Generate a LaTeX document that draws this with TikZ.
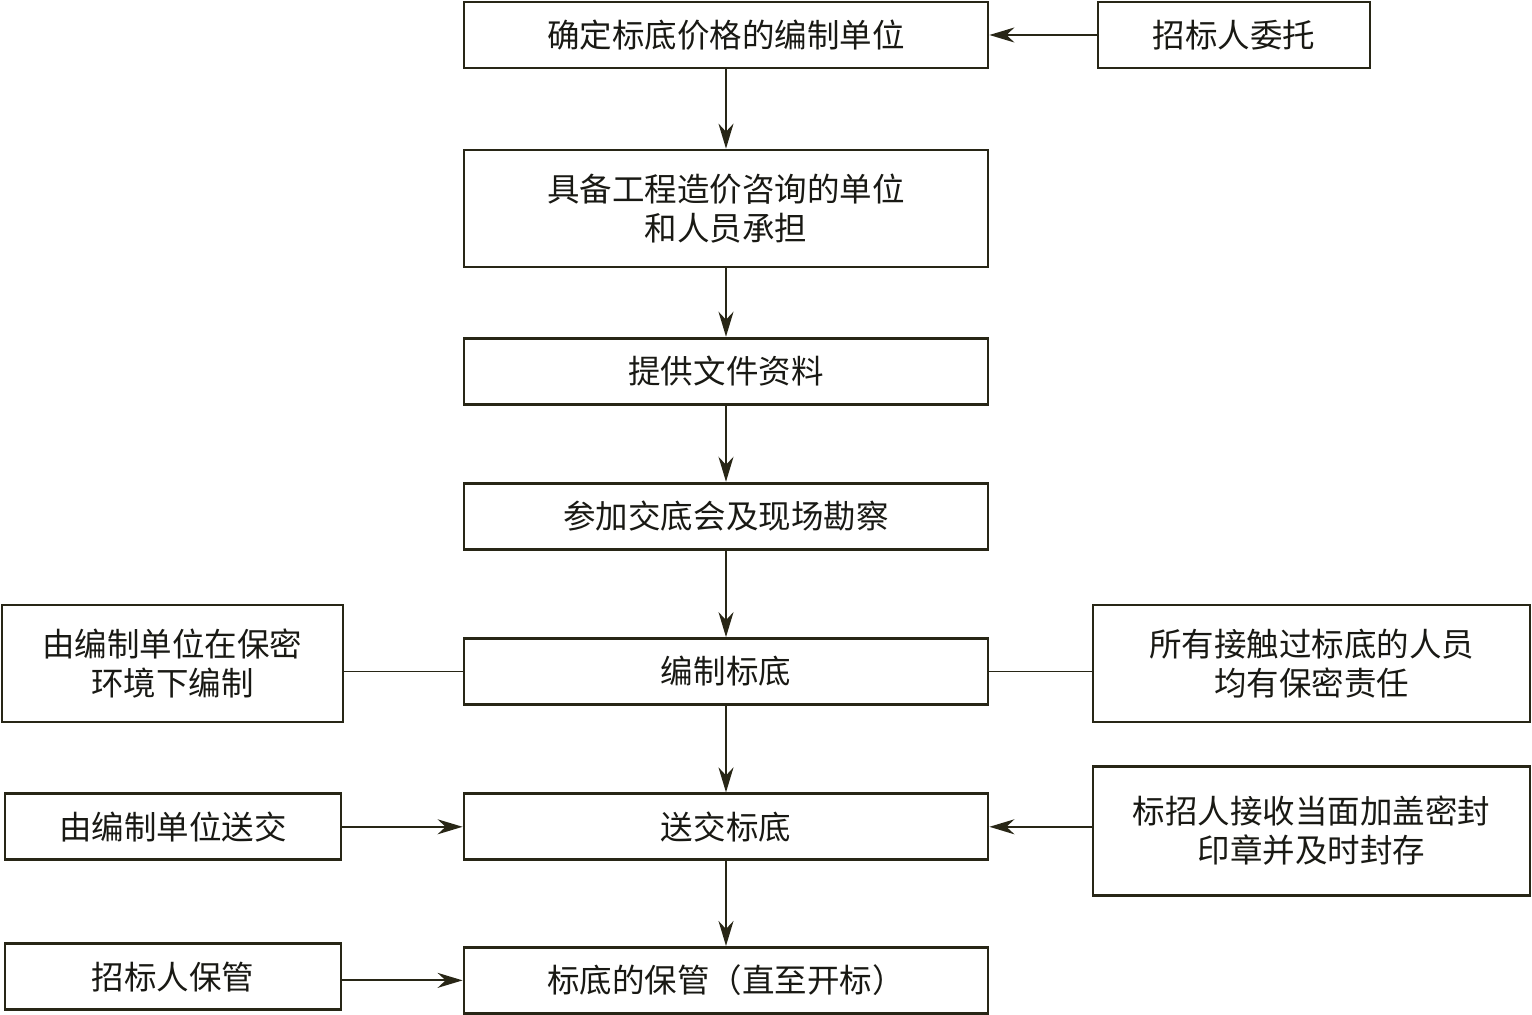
\documentclass[tikz,border=0pt]{standalone}
\usepackage{fontspec}
\usepackage{xcolor}
\usepackage{tikz}
\usetikzlibrary{arrows.meta,positioning,calc}
\newfontfamily\cjk{Noto Sans CJK SC}
\definecolor{bdline}{RGB}{40,38,22}
\definecolor{bdtext}{RGB}{25,25,20}
\tikzset{
  bdnode/.style={
    draw=bdline,
    text=bdtext,
    align=center,
    minimum height=13.2mm,
    inner sep=2pt,
    font=\cjk\fontsize{18.5}{22.5}\selectfont,
    line width=1.6pt
  },
  bdmain/.style={bdnode, minimum width=104.8mm},
  bdside/.style={bdnode, minimum width=68mm},
  bdright/.style={bdnode, minimum width=87.4mm},
  bdarrow/.style={-{Stealth[length=5mm,width=3mm,inset=1.6mm]}, line width=1pt, draw=bdline},
  bdlink/.style={line width=1pt, draw=bdline}
}
\begin{document}
\begin{tikzpicture}
\useasboundingbox (0,0) rectangle (306.4mm,-203mm);
% main column
\node[bdmain] (fix) at (145.2mm,-7mm) {确定标底价格的编制单位};
\node[bdmain, minimum height=23.4mm, below=15.85mm of fix] (unit) {具备工程造价咨询的单位\\和人员承担};
\node[bdmain, below=13.65mm of unit] (docs) {提供文件资料};
\node[bdmain, below=15.25mm of docs] (site) {参加交底会及现场勘察};
\node[bdmain, below=17.3mm of site] (draft) {编制标底};
\node[bdmain, below=17.3mm of draft] (submit) {送交标底};
\node[bdmain, below=16.95mm of submit] (keep) {标底的保管（直至开标）};
% side boxes
\node[bdnode, minimum width=54.4mm, right=21.45mm of fix] (entrust) {招标人委托};
\node[bdside, minimum width=68.2mm, minimum height=23.4mm, left=23.65mm of draft, yshift=1.6mm] (secret) {由编制单位在保密\\环境下编制};
\node[bdright, minimum height=23.4mm, right=20.45mm of draft, yshift=1.6mm] (duty) {所有接触过标底的人员\\均有保密责任};
\node[bdside, minimum width=67.2mm, left=24.05mm of submit] (send) {由编制单位送交};
\node[bdright, minimum height=25.8mm, right=20.45mm of submit, yshift=-0.8mm] (seal) {标招人接收当面加盖密封\\印章并及时封存};
\node[bdside, minimum width=67.2mm, left=24.05mm of keep, yshift=0.7mm] (owner) {招标人保管};
% connectors
\draw[bdarrow] (fix) -- (unit);
\draw[bdarrow] (unit) -- (docs);
\draw[bdarrow] (docs) -- (site);
\draw[bdarrow] (site) -- (draft);
\draw[bdarrow] (draft) -- (submit);
\draw[bdarrow] (submit) -- (keep);
\draw[bdarrow] (entrust) -- (fix);
\draw[bdlink] (draft.west) -- (draft.west -| secret.east);
\draw[bdlink] (draft.east) -- (draft.east -| duty.west);
\draw[bdarrow] (send) -- (submit);
\draw[bdarrow] (seal.west |- submit.east) -- (submit.east);
\draw[bdarrow] (owner.east |- keep.west) -- (keep.west);
\end{tikzpicture}
\end{document}
